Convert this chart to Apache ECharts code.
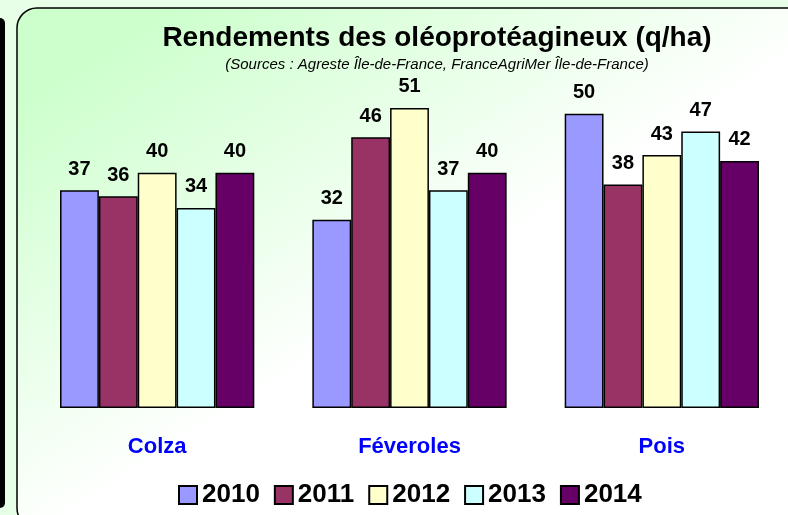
<!DOCTYPE html>
<html>
<head>
<meta charset="utf-8">
<script src="https://cdn.jsdelivr.net/npm/echarts@6/dist/echarts.min.js"></script>
<style>
  html, body { margin: 0; padding: 0; background: #e6ffe6; }
  #rendements { width: 788px; height: 515px; }
</style>
</head>
<body>
<div id="rendements"></div>
<script>
// données
var cultures = ['Colza', 'Féveroles', 'Pois']
var annees = ['2010', '2011', '2012', '2013', '2014']
var r2010 = [37, 32, 50]
var r2011 = [36, 46, 38]
var r2012 = [40, 51, 43]
var r2013 = [34, 37, 47]
var r2014 = [40, 40, 42]
var couleurs = ['#9999ff', '#993366', '#ffffcc', '#ccffff', '#660066']

var valeurs = [r2010, r2011, r2012, r2013, r2014]

var chart = echarts.init(document.getElementById('rendements'))

var series = annees.map(function (a, i) {
  return {
    name: a,
    type: 'bar',
    data: valeurs[i],
    barGap: '0%',
    barCategoryGap: '23%',
    itemStyle: {
      color: couleurs[i],
      borderColor: '#000',
      borderWidth: 1.5
    },
    label: {
      show: true,
      position: 'top',
      distance: 11,
      color: '#000',
      fontFamily: 'Liberation Sans, Arial',
      fontWeight: 'bold',
      fontSize: 20
    }
  }
})

chart.setOption({
  animation: false,
  graphic: [
    // bande noire à gauche
    {
      type: 'rect',
      z: -10,
      shape: { x: -6, y: 18, width: 11, height: 490, r: 5 },
      style: { fill: '#000' }
    },
    // cadre arrondi avec dégradé vert
    {
      type: 'rect',
      z: -10,
      shape: { x: 17, y: 8, width: 800, height: 520, r: 20 },
      style: {
        fill: new echarts.graphic.LinearGradient(30, 90, 236, 414, [
          { offset: 0, color: '#ccffcc' },
          { offset: 1, color: '#ffffff' }
        ], true),
        stroke: '#000',
        lineWidth: 1.5
      }
    }
  ],
  title: {
    text: 'Rendements des oléoprotéagineux (q/ha)',
    subtext: '(Sources : Agreste Île-de-France, FranceAgriMer Île-de-France)',
    left: 432,
    top: 19,
    textAlign: 'center',
    itemGap: 5,
    textStyle: {
      fontFamily: 'Liberation Sans, Arial',
      fontWeight: 'bold',
      fontSize: 28,
      color: '#000'
    },
    subtextStyle: {
      fontFamily: 'Liberation Sans, Arial',
      fontStyle: 'italic',
      fontSize: 15,
      color: '#000'
    }
  },
  legend: {
    data: annees,
    bottom: 2,
    left: 173,
    icon: 'rect',
    itemWidth: 18,
    itemHeight: 18,
    itemGap: 14,
    textStyle: {
      fontFamily: 'Liberation Sans, Arial',
      fontWeight: 'bold',
      fontSize: 26,
      color: '#000'
    }
  },
  grid: {
    left: 31,
    right: -2,
    top: 55,
    bottom: 107
  },
  xAxis: {
    type: 'category',
    data: cultures,
    axisLine: { show: false },
    axisTick: { show: false },
    axisLabel: {
      margin: 28,
      color: '#0000ff',
      fontFamily: 'Liberation Sans, Arial',
      fontWeight: 'bold',
      fontSize: 22
    }
  },
  yAxis: {
    type: 'value',
    min: 0,
    max: 60,
    show: false,
    splitLine: { show: false }
  },
  series: series
})
</script>
</body>
</html>
